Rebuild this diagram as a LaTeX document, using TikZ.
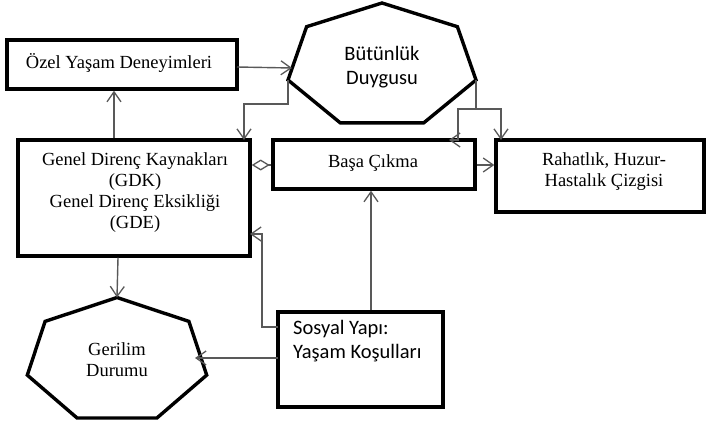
\documentclass[tikz,border=0pt]{standalone}
\usepackage{fontspec}
\setmainfont{Liberation Serif}
\newfontfamily\calib{Carlito}
\usetikzlibrary{arrows.meta,calc}
\begin{document}
\begin{tikzpicture}[x=1pt,y=-1pt,
  box/.style={draw=black,line width=3.4pt,inner sep=0pt,minimum width=#1},
  hepta/.style={draw=black,line width=3.4pt,line join=miter},
  conn/.style={draw=black!65,line width=1.4pt,-{Straight Barb[length=10pt,width=14pt,line width=1.3pt]}},
  serif/.style={font=\fontsize{18.5}{21}\selectfont,align=center,inner sep=0pt},
  sans/.style={font=\calib\fontsize{20.5}{24}\selectfont,align=left,inner sep=0pt}]
\useasboundingbox (0,0) rectangle (706,420);
% boxes
\node[box=230pt,minimum height=49pt] (ozel) at (122,64.5) {};
\node[box=232pt,minimum height=116pt] (gdk) at (134,198) {};
\node[box=202pt,minimum height=49pt] (basa) at (374,164.5) {};
\node[box=208pt,minimum height=72pt] (rahat) at (600,176) {};
\node[box=165pt,minimum height=95pt] (sosyal) at (360.5,359.5) {};
% texts in boxes
\node[serif] (tozel) at (119,63) {Özel Yaşam Deneyimleri};
\node[serif] (tgdk) at (135,193) {Genel Direnç Kaynakları\\(GDK)\\Genel Direnç Eksikliği\\(GDE)};
\node[serif] (tbasa) at (373,163) {Başa Çıkma};
\node[serif] (trahat) at (604,172) {Rahatlık, Huzur-\\Hastalık Çizgisi};
\node[sans,anchor=north west] (tsosyal) at (293,320) {Sosyal Yapı:\\Yaşam Koşulları};
% heptagon 1
\coordinate (b1) at (382,3);
\coordinate (b2) at (306.6,26.7);
\coordinate (b3) at (288,80);
\coordinate (b4) at (340.2,122.8);
\coordinate (b5) at (423.8,122.8);
\coordinate (b6) at (476,80);
\coordinate (b7) at (457.4,26.7);
\draw[hepta] (b1)--(b2)--(b3)--(b4)--(b5)--(b6)--(b7)--cycle;
\node[sans,align=center] (butun) at (382,67) {Bütünlük\\Duygusu};
% heptagon 2
\coordinate (g1) at (117,297.5);
\coordinate (g2) at (45.1,321.4);
\coordinate (g3) at (27.3,375.1);
\coordinate (g4) at (77.1,418);
\coordinate (g5) at (156.9,418);
\coordinate (g6) at (206.7,375.1);
\coordinate (g7) at (188.9,321.4);
\draw[hepta] (g1)--(g2)--(g3)--(g4)--(g5)--(g6)--(g7)--cycle;
\node[serif] (geril) at (117,360) {Gerilim\\Durumu};
% connector end points
\coordinate (ozelout) at (237,67);
\coordinate (butunin) at (292,68);
\coordinate (gdktop) at (244,140);
\coordinate (basatop) at (449,140);
\coordinate (rahattop) at (501,140);
\coordinate (gdkright) at (250,234);
\coordinate (sosyalA) at (278,327);
\coordinate (sosyalB) at (278,358);
\coordinate (gerilin) at (195,358);
% connectors
\draw[conn] (ozelout) -- (butunin);
\draw[conn] (b3) -- (288,104) -- (244,104) -- (gdktop);
\draw[conn] (b6) -- (476,109) -- (458,109) -- (458,140) -- (basatop);
\draw[conn] (476,109) -- (501,109) -- (rahattop);
\draw[conn] (gdk.north -| 114,0) -- (ozel.south -| 114,0);
\draw[conn] (gdk.south -| 118,0) -- (g1);
\draw[draw=black!65,line width=1.4pt,-{Diamond[open,length=18pt,width=11pt,line width=1.3pt]}] (basa.west |- 0,165) -- (gdk.east |- 0,165);
\draw[conn] (basa.east |- 0,165) -- (rahat.west |- 0,165);
\draw[conn] (sosyal.north -| 371,0) -- (basa.south -| 371,0);
\draw[conn] (sosyalA) -- (262,327) -- (262,234) -- (gdkright);
\draw[conn] (sosyalB) -- (gerilin);
\end{tikzpicture}
\end{document}
